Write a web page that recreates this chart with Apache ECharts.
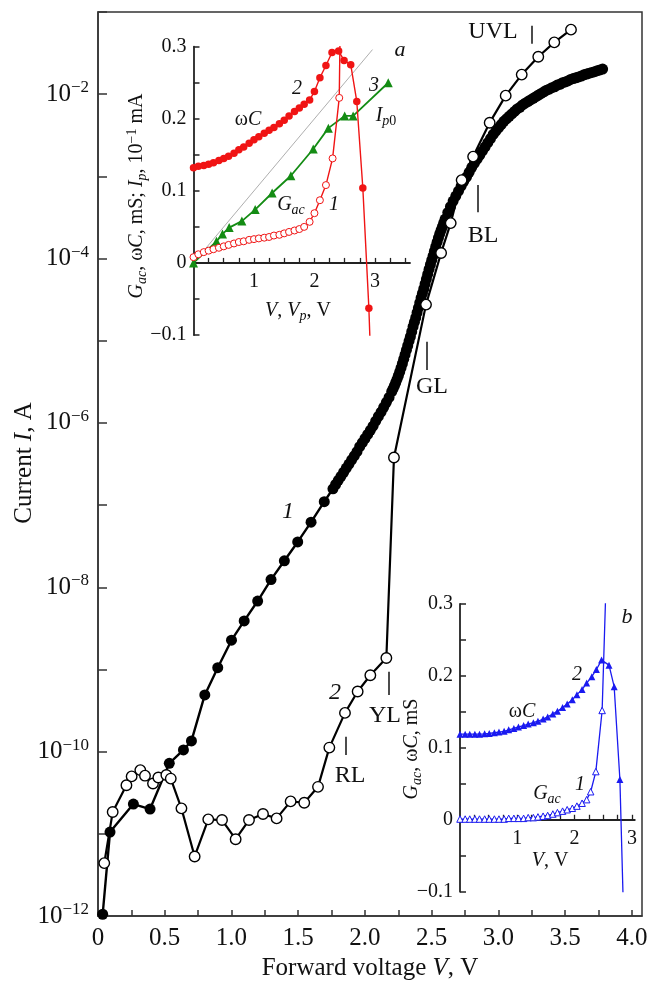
<!DOCTYPE html>
<html>
<head>
<meta charset="utf-8">
<script src="https://cdn.jsdelivr.net/npm/echarts@6/dist/echarts.min.js"></script>
<style>
  html, body { margin: 0; padding: 0; background: #fff; }
  #chart { width: 653px; height: 985px; }
</style>
</head>
<body>
<div id="chart"></div>
<script>
const FONT = '"Liberation Serif", "Times New Roman", Times, serif';

// ---- main plot: curve 1 (filled circles), forward voltage V / current A
const curve1V = [0.035, 0.09, 0.265, 0.39, 0.534, 0.64, 0.70, 0.80, 0.897, 1.0, 1.095, 1.196, 1.296, 1.396, 1.496, 1.596, 1.695,
  1.76, 1.78, 1.80, 1.82, 1.84, 1.86, 1.88, 1.90, 1.92, 1.94, 1.96, 1.98, 2.00, 2.02, 2.04, 2.06, 2.08, 2.10, 2.12, 2.14,
  2.16, 2.18, 2.20, 2.21, 2.22, 2.23, 2.24, 2.25, 2.26, 2.27, 2.28, 2.29, 2.30, 2.31, 2.32, 2.33, 2.34, 2.35, 2.36, 2.37,
  2.38, 2.39, 2.40, 2.41, 2.42, 2.43, 2.44, 2.45, 2.46, 2.47, 2.48, 2.49, 2.50, 2.51, 2.52, 2.53, 2.54, 2.55, 2.56, 2.57,
  2.58, 2.59, 2.60, 2.62, 2.64, 2.66, 2.68, 2.70, 2.72, 2.74, 2.76, 2.78, 2.80, 2.82, 2.84, 2.86, 2.88, 2.90, 2.92, 2.94,
  2.96, 2.98, 3.00, 3.02, 3.04, 3.06, 3.08, 3.10, 3.12, 3.14, 3.16, 3.18, 3.20, 3.22, 3.24, 3.26, 3.28, 3.30, 3.32, 3.34,
  3.36, 3.38, 3.40, 3.42, 3.44, 3.46, 3.48, 3.50, 3.52, 3.54, 3.56, 3.58, 3.60, 3.62, 3.64, 3.66, 3.68, 3.70, 3.72, 3.74,
  3.76, 3.78];
const curve1I = [1.05e-12, 1.05e-11, 2.3e-11, 2.0e-11, 7.2e-11, 1.05e-10, 1.35e-10, 4.9e-10, 1.05e-9, 2.27e-9, 3.9e-9, 6.8e-9,
  1.24e-8, 2.1e-8, 3.56e-8, 6.2e-8, 1.1e-7,
  1.58e-7, 1.78e-7, 2.0e-7, 2.24e-7, 2.51e-7, 2.82e-7, 3.16e-7, 3.55e-7, 3.98e-7, 4.47e-7, 5.13e-7, 5.75e-7, 6.46e-7, 7.24e-7,
  8.13e-7, 9.12e-7, 1.05e-6, 1.2e-6, 1.35e-6, 1.55e-6, 1.78e-6, 2.04e-6,
  2.4e-6, 2.6e-6, 2.82e-6, 3.09e-6, 3.39e-6, 3.76e-6, 4.17e-6, 4.68e-6, 5.25e-6, 5.96e-6, 6.76e-6, 7.67e-6, 8.71e-6, 9.89e-6,
  1.12e-5, 1.29e-5, 1.48e-5, 1.68e-5, 1.91e-5, 2.19e-5, 2.51e-5, 2.88e-5, 3.31e-5, 3.76e-5, 4.27e-5, 4.9e-5, 5.62e-5, 6.46e-5,
  7.41e-5, 8.41e-5, 9.55e-5, 1.08e-4, 1.23e-4, 1.4e-4, 1.58e-4, 1.78e-4, 2.0e-4, 2.21e-4, 2.45e-4, 2.72e-4, 3.02e-4,
  3.63e-4, 4.27e-4, 5.01e-4, 5.75e-4, 6.61e-4, 7.59e-4, 8.71e-4, 9.77e-4, 1.12e-3, 1.29e-3, 1.45e-3, 1.62e-3, 1.82e-3,
  2.04e-3, 2.29e-3, 2.57e-3, 2.88e-3, 3.24e-3, 3.55e-3, 3.89e-3, 4.27e-3, 4.68e-3, 5.01e-3, 5.37e-3, 5.75e-3, 6.17e-3, 6.61e-3,
  6.92e-3, 7.41e-3, 7.76e-3, 8.13e-3, 8.51e-3, 8.91e-3, 9.33e-3, 9.77e-3, 1.02e-2, 1.07e-2, 1.12e-2, 1.15e-2, 1.2e-2, 1.23e-2,
  1.29e-2, 1.32e-2, 1.38e-2, 1.41e-2, 1.45e-2, 1.51e-2, 1.55e-2, 1.58e-2, 1.62e-2, 1.66e-2, 1.72e-2, 1.76e-2, 1.8e-2, 1.84e-2,
  1.88e-2, 1.93e-2, 1.97e-2, 2.02e-2];

// curve 2 (open circles)
const curve2V = [0.047, 0.11, 0.213, 0.252, 0.317, 0.352, 0.412, 0.452, 0.512, 0.545, 0.625, 0.724, 0.826, 0.929, 1.031, 1.131,
  1.236, 1.338, 1.443, 1.545, 1.648, 1.733, 1.85, 1.945, 2.04, 2.16, 2.217, 2.457, 2.57, 2.642, 2.724, 2.81, 2.934, 3.054,
  3.174, 3.298, 3.418, 3.543];
const curve2I = [4.4e-12, 1.84e-11, 3.9e-11, 5.0e-11, 5.96e-11, 5.1e-11, 4.1e-11, 4.85e-11, 5.2e-11, 4.7e-11, 2.04e-11, 5.3e-12,
  1.5e-11, 1.47e-11, 8.6e-12, 1.47e-11, 1.74e-11, 1.54e-11, 2.48e-11, 2.39e-11, 3.73e-11, 1.12e-10, 2.96e-10, 5.4e-10, 8.5e-10,
  1.38e-9, 3.8e-7, 2.75e-5, 1.17e-4, 2.7e-4, 9.0e-4, 1.74e-3, 4.5e-3, 9.6e-3, 1.73e-2, 2.85e-2, 4.27e-2, 6.1e-2];

// emission band markers
const markNames = ['UVL', 'BL', 'GL', 'YL', 'RL'];
const markV = [3.248, 2.844, 2.462, 2.175, 1.858];
const markTop = [6.8e-2, 7.85e-4, 9.7e-6, 9.4e-10, 1.52e-10];
const markBottom = [4.1e-2, 3.66e-4, 4.4e-6, 4.9e-10, 9.1e-11];

const mainXTicks = [0.25, 0.5, 0.75, 1.0, 1.25, 1.5, 1.75, 2.0, 2.25, 2.5, 2.75, 3.0, 3.25, 3.5, 3.75, 4.0];
const mainXLabels = [0, 0.5, 1.0, 1.5, 2.0, 2.5, 3.0, 3.5, 4.0];

// ---- inset a
const aOmegaCV = [0, 0.08, 0.17, 0.25, 0.33, 0.42, 0.5, 0.58, 0.67, 0.75, 0.83, 0.92, 1.0, 1.08, 1.17, 1.25, 1.33, 1.42, 1.5,
  1.58, 1.67, 1.75, 1.83, 1.92, 2.0, 2.09, 2.19, 2.29, 2.4, 2.49, 2.6, 2.7, 2.8, 2.9, 2.94];
const aOmegaC = [0.132, 0.134, 0.135, 0.137, 0.139, 0.142, 0.145, 0.148, 0.152, 0.157, 0.161, 0.166, 0.171, 0.175, 0.18, 0.184,
  0.188, 0.193, 0.198, 0.204, 0.21, 0.215, 0.22, 0.226, 0.238, 0.257, 0.274, 0.292, 0.294, 0.281, 0.275, 0.224, 0.104, -0.063, -0.16];
const aGacV = [0, 0.08, 0.17, 0.25, 0.33, 0.42, 0.5, 0.58, 0.67, 0.75, 0.83, 0.92, 1.0, 1.08, 1.17, 1.25, 1.33, 1.42, 1.5, 1.58,
  1.67, 1.75, 1.83, 1.92, 2.0, 2.09, 2.19, 2.3, 2.41, 2.43];
const aGac = [0.008, 0.012, 0.015, 0.017, 0.019, 0.021, 0.023, 0.025, 0.027, 0.029, 0.03, 0.032, 0.033, 0.034, 0.035, 0.036,
  0.038, 0.039, 0.041, 0.043, 0.045, 0.047, 0.05, 0.057, 0.069, 0.087, 0.108, 0.145, 0.229, 0.36];
const aIpV = [0, 0.38, 0.48, 0.59, 0.8, 1.02, 1.3, 1.61, 1.98, 2.23, 2.5, 2.64, 3.22];
const aIp = [0, 0.03, 0.04, 0.049, 0.058, 0.074, 0.097, 0.121, 0.158, 0.187, 0.204, 0.204, 0.25];
const aIdealV = [0, 2.96];
const aIdeal = [0, 0.296];

// ---- inset b
const bV = [0, 0.09, 0.17, 0.26, 0.34, 0.43, 0.51, 0.6, 0.68, 0.77, 0.85, 0.94, 1.02, 1.11, 1.19, 1.28, 1.36, 1.45, 1.53, 1.62,
  1.7, 1.79, 1.87, 1.96, 2.04, 2.13, 2.21];
const bOmegaCV = bV.concat([2.3, 2.38, 2.47, 2.6, 2.69, 2.79, 2.86]);
const bOmegaC = [0.119, 0.119, 0.119, 0.119, 0.119, 0.1195, 0.12, 0.121, 0.122, 0.123, 0.125, 0.127, 0.129, 0.131, 0.133, 0.135,
  0.137, 0.14, 0.143, 0.147, 0.151, 0.156, 0.161, 0.167, 0.174, 0.181, 0.19, 0.199, 0.209, 0.222, 0.215, 0.185, 0.056, -0.15];
const bGacV = bV.concat([2.28, 2.37, 2.48, 2.56]);
const bGac = [0.001, 0.001, 0.001, 0.001, 0.001, 0.001, 0.001, 0.001, 0.001, 0.001, 0.002, 0.002, 0.002, 0.002, 0.003, 0.003,
  0.004, 0.005, 0.006, 0.008, 0.01, 0.012, 0.014, 0.016, 0.019, 0.023, 0.028, 0.039, 0.067, 0.152, 0.36];

const insetTicks = [0.25, 0.5, 0.75, 1, 1.25, 1.5, 1.75, 2, 2.25, 2.5, 2.75, 3, 3.25, 3.5];
const insetLabels = [1, 2, 3];
const insetYTicks = [-0.1, -0.05, 0, 0.05, 0.1, 0.15, 0.2, 0.25, 0.3];
const insetYLabels = [-0.1, 0, 0.1, 0.2, 0.3];

const RED = '#f01414';
const GREEN = '#148c14';
const BLUE = '#1a1af0';

const zip = (xs, ys) => xs.map((x, i) => [x, ys[i]]);

const chart = echarts.init(document.getElementById('chart'), null, { renderer: 'canvas' });

// inset grids: [left, top, width, height]
const insetA = [193.5, 46.7, 216.5, 288.3];
const insetB = [460, 604, 174.8, 287.7];

function insetYAxis(grid) {
  return {
    type: 'value', gridIndex: grid, min: -0.1, max: 0.3, interval: 0.05,
    axisLine: { show: true, onZero: false, lineStyle: { color: '#222', width: 1.8 } },
    axisTick: { show: true, inside: true, length: 6, customValues: insetYTicks, lineStyle: { color: '#222', width: 1.5 } },
    axisLabel: {
      customValues: insetYLabels, margin: 7, fontFamily: FONT, fontSize: 20, color: '#111',
      formatter: v => (Math.abs(v) < 1e-9 ? '0' : (v < 0 ? '\u2212' + (-v).toFixed(1) : v.toFixed(1)))
    },
    splitLine: { show: false }
  };
}
// x axis sits on the zero line: shift it up by 0.1 of the 0.4 y span
function insetXAxis(grid, max, box) {
  return {
    type: 'value', gridIndex: grid, min: 0, max: max, interval: 0.25,
    offset: -box[3] * 0.25,
    axisLine: { show: true, onZero: false, lineStyle: { color: '#222', width: 1.8 } },
    axisTick: { show: true, inside: true, length: 5, customValues: insetTicks.filter(t => t <= max), lineStyle: { color: '#222', width: 1.3 } },
    axisLabel: { customValues: insetLabels, margin: 9, fontFamily: FONT, fontSize: 20, color: '#111', formatter: v => String(v) },
    splitLine: { show: false }
  };
}

// text helpers for annotations
const richBase = (size) => ({
  n: { fontFamily: FONT, fontSize: size, fill: '#111' },
  i: { fontFamily: FONT, fontSize: size, fontStyle: 'italic', fill: '#111' },
  sub: { fontFamily: FONT, fontSize: Math.round(size * 0.7), fontStyle: 'italic', fill: '#111', padding: [Math.round(size * 0.5), 0, 0, 0] },
  subn: { fontFamily: FONT, fontSize: Math.round(size * 0.7), fill: '#111', padding: [Math.round(size * 0.5), 0, 0, 0] },
  sup: { fontFamily: FONT, fontSize: Math.round(size * 0.7), fill: '#111', padding: [0, 0, Math.round(size * 0.5), 0] }
});
function label(x, y, text, size, rot) {
  return {
    type: 'text', x: x, y: y, rotation: rot || 0, z: 100,
    style: { text: text, rich: richBase(size), align: 'center', verticalAlign: 'middle', fill: '#111' }
  };
}

const graphics = [
  label(370, 968, '{n|Forward voltage }{i|V}{n|, V}', 25),
  label(24, 463, '{n|Current }{i|I}{n|, A}', 25, Math.PI / 2),
  label(493, 32, '{n|UVL}', 24),
  label(483, 236, '{n|BL}', 24),
  label(432, 387, '{n|GL}', 24),
  label(385, 716, '{n|YL}', 24),
  label(350, 776, '{n|RL}', 24),
  label(288, 512, '{i|1}', 24),
  label(335, 693, '{i|2}', 24),
  // inset a
  label(137, 196, '{i|G}{sub|ac}{n|, \u03c9}{i|C}{n|, mS; }{i|I}{sub|p}{n|, 10}{sup|\u22121}{n| mA}', 20, Math.PI / 2),
  label(298, 311, '{i|V}{n|, }{i|V}{sub|p}{n|, V}', 20),
  label(248, 120, '{n|\u03c9}{i|C}', 20),
  label(297, 89, '{i|2}', 20),
  label(291, 205, '{i|G}{sub|ac}', 20),
  label(334, 205, '{i|1}', 20),
  label(374, 86, '{i|3}', 20),
  label(386, 116, '{i|I}{sub|p}{subn|0}', 20),
  label(400, 50, '{i|a}', 22),
  // inset b
  label(412, 749, '{i|G}{sub|ac}{n|, \u03c9}{i|C}{n|, mS}', 20, Math.PI / 2),
  label(550, 861, '{i|V}{n|, V}', 20),
  label(522, 712, '{n|\u03c9}{i|C}', 20),
  label(577, 675, '{i|2}', 20),
  label(547, 794, '{i|G}{sub|ac}', 20),
  label(580, 785, '{i|1}', 20),
  label(627, 617, '{i|b}', 22)
];

const option = {
  animation: false,
  backgroundColor: '#fff',
  grid: [
    { left: 98, right: 11, top: 12, bottom: 69, show: true, borderColor: '#333', borderWidth: 1.5, backgroundColor: 'transparent' },
    { left: insetA[0], top: insetA[1], width: insetA[2], height: insetA[3] },
    { left: insetB[0], top: insetB[1], width: insetB[2], height: insetB[3] }
  ],
  xAxis: [
    {
      type: 'value', gridIndex: 0, min: 0, max: 4.075, interval: 0.25,
      axisLine: { show: true, onZero: false, lineStyle: { color: '#333', width: 1.5 } },
      axisTick: { show: true, inside: true, length: 6, customValues: mainXTicks, lineStyle: { color: '#333', width: 1.5 } },
      axisLabel: {
        customValues: mainXLabels, margin: 10, fontFamily: FONT, fontSize: 25, color: '#111',
        formatter: v => (v === 0 ? '0' : v.toFixed(1))
      },
      splitLine: { show: false }
    },
    insetXAxis(1, 3.58, insetA),
    insetXAxis(2, 3.05, insetB)
  ],
  yAxis: [
    {
      type: 'log', logBase: 10, gridIndex: 0, min: 1e-12, max: 1e-1, interval: 1,
      axisLine: { show: true, onZero: false, lineStyle: { color: '#333', width: 1.5 } },
      axisTick: { show: true, inside: true, length: 9, lineStyle: { color: '#333', width: 1.5 } },
      axisLabel: {
        margin: 9, fontFamily: FONT, color: '#111',
        formatter: v => {
          const e = Math.round(Math.log10(v));
          if (e % 2 !== 0 || e > -2) return '';
          return '{b|10}{s|\u2212' + (-e) + '}';
        },
        rich: {
          b: { fontFamily: FONT, fontSize: 25, color: '#111' },
          s: { fontFamily: FONT, fontSize: 17, color: '#111', padding: [0, 0, 13, 0] }
        }
      },
      splitLine: { show: false }
    },
    insetYAxis(1),
    insetYAxis(2)
  ],
  series: [
    {
      name: 'curve 1', type: 'line', xAxisIndex: 0, yAxisIndex: 0, z: 3,
      data: zip(curve1V, curve1I),
      symbol: 'circle', symbolSize: 11,
      itemStyle: { color: '#000' },
      lineStyle: { color: '#000', width: 2.4 },
      markLine: {
        silent: true, symbol: 'none', label: { show: false },
        lineStyle: { color: '#111', width: 1.5, type: 'solid' },
        data: markNames.map((n, k) => [{ coord: [markV[k], markTop[k]] }, { coord: [markV[k], markBottom[k]] }])
      }
    },
    {
      name: 'curve 2', type: 'line', xAxisIndex: 0, yAxisIndex: 0, z: 4,
      data: zip(curve2V, curve2I),
      symbol: 'circle', symbolSize: 10.5,
      itemStyle: { color: '#fff', borderColor: '#000', borderWidth: 1.4 },
      lineStyle: { color: '#000', width: 2.2 }
    },
    // inset a
    {
      name: 'ideal', type: 'line', xAxisIndex: 1, yAxisIndex: 1, z: 5,
      data: zip(aIdealV, aIdeal), symbol: 'none',
      lineStyle: { color: '#999', width: 0.8 }
    },
    {
      name: 'a Ip0', type: 'line', xAxisIndex: 1, yAxisIndex: 1, z: 6,
      data: zip(aIpV, aIp), symbol: 'triangle', symbolSize: 9,
      itemStyle: { color: GREEN }, lineStyle: { color: GREEN, width: 1.8 }
    },
    {
      name: 'a Gac', type: 'line', xAxisIndex: 1, yAxisIndex: 1, z: 7,
      data: zip(aGacV, aGac), symbol: 'circle', symbolSize: 7,
      itemStyle: { color: '#fff', borderColor: RED, borderWidth: 1 }, lineStyle: { color: RED, width: 1.4 }
    },
    {
      name: 'a omegaC', type: 'line', xAxisIndex: 1, yAxisIndex: 1, z: 8,
      data: zip(aOmegaCV, aOmegaC), symbol: 'circle', symbolSize: 7.5,
      itemStyle: { color: RED }, lineStyle: { color: RED, width: 1.4 }
    },
    // inset b
    {
      name: 'b Gac', type: 'line', xAxisIndex: 2, yAxisIndex: 2, z: 7,
      data: zip(bGacV, bGac), symbol: 'triangle', symbolSize: 6.5,
      itemStyle: { color: '#fff', borderColor: BLUE, borderWidth: 1 }, lineStyle: { color: BLUE, width: 1.3 }
    },
    {
      name: 'b omegaC', type: 'line', xAxisIndex: 2, yAxisIndex: 2, z: 8,
      data: zip(bOmegaCV, bOmegaC), symbol: 'triangle', symbolSize: 7,
      itemStyle: { color: BLUE }, lineStyle: { color: BLUE, width: 1.3 }
    }
  ],
  graphic: graphics
};

chart.setOption(option);
</script>
</body>
</html>
